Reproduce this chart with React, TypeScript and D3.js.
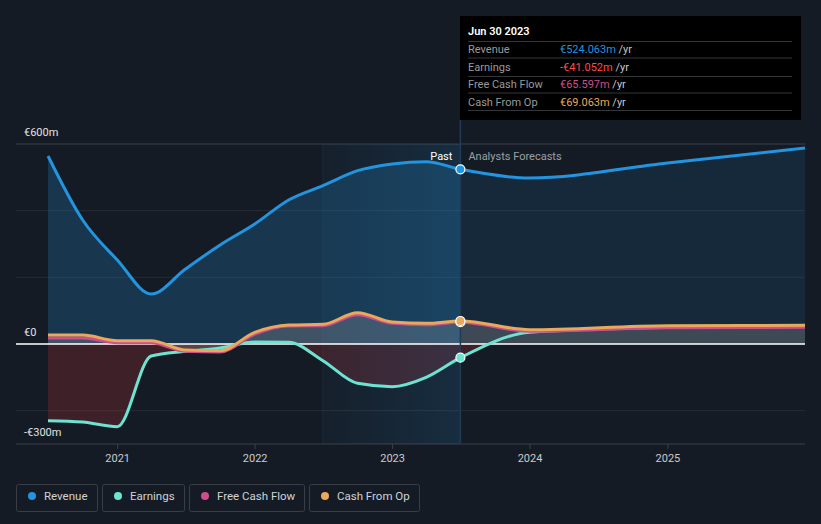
import React from "react";
import * as d3 from "d3";

// quarterly history, then analyst forecasts (values in €m)
const pastDates = [
  "2020-06-30", "2020-09-30", "2020-12-31", "2021-03-31", "2021-06-30", "2021-09-30",
  "2021-12-31", "2022-03-31", "2022-06-30", "2022-09-30", "2022-12-31", "2023-03-31", "2023-06-30",
];
const forecastDates = ["2023-12-31", "2024-12-31", "2025-12-31"];

const revenue = [564, 372, 252, 150, 225, 297, 360, 432, 475, 520, 540, 547, 524.063, 498, 543, 588];
const earnings = [-230, -234, -248, -36, -22, -12, 6, 5, -50, -118, -128, -100, -41.052, 35, 50, 55];
const freeCashFlow = [18, 18, 4, 4, -22, -24, 30, 54, 55, 88, 62, 58, 65.597, 38, 49, 50];
const cashFromOp = [27, 27, 10, 10, -18, -20, 35, 57, 59, 94, 66, 62, 69.063, 43, 55, 56];

const yTicks = [600, 0, -300];
const yTickLabels = ["€600m", "€0", "-€300m"];
const gridValues = [600, 400, 200, 0, -200];
const xTickYears = [2021, 2022, 2023, 2024, 2025];

const seriesNames = ["Revenue", "Earnings", "Free Cash Flow", "Cash From Op"];
const seriesColors = ["#2394df", "#6de3d1", "#cf4d8c", "#e9a95a"];
const tooltipValues = ["€524.063m", "-€41.052m", "€65.597m", "€69.063m"];
const tooltipValueColors = ["#2394df", "#ff4a4a", "#cf4d8c", "#e9a95a"];

const W = 821;
const H = 524;
const BG = "#151b24";
const FONT = "Roboto, 'Open Sans', sans-serif";

const parse = d3.timeParse("%Y-%m-%d");
const dates = [...pastDates, ...forecastDates].map(d => parse(d)!);
const splitDate = parse("2023-06-30")!;
const bandStart = parse("2022-06-30")!;

export default function App() {
  const x = d3.scaleTime().domain([dates[0], dates[dates.length - 1]]).range([48, 805]);
  const y = d3.scaleLinear().domain([-300, 600]).range([444, 144]);
  const gridLeft = 16;
  const gridRight = 805;

  const pts = (vals: number[]) => vals.map((v, i) => [dates[i], v] as [Date, number]);

  const line = d3
    .line<[Date, number]>()
    .x(d => x(d[0]))
    .y(d => y(d[1]))
    .curve(d3.curveMonotoneX);
  const area = d3
    .area<[Date, number]>()
    .x(d => x(d[0]))
    .y0(y(0))
    .y1(d => y(d[1]))
    .curve(d3.curveMonotoneX);

  const xs = x(splitDate);
  const xb = x(bandStart);
  const splitIdx = pastDates.length - 1;

  const legendWidths = [81, 82, 115, 110];
  let lx = 16;
  const legend = seriesNames.map((n, i) => {
    const item = { n, i, x: lx, w: legendWidths[i] };
    lx += legendWidths[i] + 5;
    return item;
  });

  return (
    <svg width={W} height={H} style={{ position: "absolute", left: 0, top: 0, background: BG, fontFamily: FONT }}>
      <defs>
        <clipPath id="pastClip">
          <rect x={0} y={0} width={xs} height={H} />
        </clipPath>
        <clipPath id="futureClip">
          <rect x={xs} y={0} width={W - xs} height={H} />
        </clipPath>
        <clipPath id="belowZero">
          <rect x={0} y={y(0)} width={W} height={H - y(0)} />
        </clipPath>
        <linearGradient id="bandGrad" x1="0" x2="1" y1="0" y2="0">
          <stop offset="0%" stopColor="#2394df" stopOpacity={0.04} />
          <stop offset="100%" stopColor="#2394df" stopOpacity={0.15} />
        </linearGradient>
      </defs>
      <rect x={0} y={0} width={W} height={H} fill={BG} />

      {/* gridlines */}
      {gridValues.map(v => (
        <line key={v} x1={gridLeft} x2={gridRight} y1={y(v)} y2={y(v)}
          stroke={v === 600 ? "#3b4048" : "#262c35"} strokeWidth={1} />
      ))}
      <line x1={gridLeft} x2={gridRight} y1={y(-300)} y2={y(-300)} stroke="#3b4048" strokeWidth={1} />

      {/* revenue area */}
      <path d={area(pts(revenue))!} fill="#2394df" fillOpacity={0.22} clipPath="url(#pastClip)" />
      <path d={area(pts(revenue))!} fill="#2394df" fillOpacity={0.12} clipPath="url(#futureClip)" />

      {/* earnings negative area */}
      <path d={area(pts(earnings))!} fill="#e0383e" fillOpacity={0.2} clipPath="url(#belowZero)" />

      {/* cash areas */}
      <path d={area(pts(cashFromOp))!} fill="#d8c8c8" fillOpacity={0.12} />
      <path d={area(pts(freeCashFlow))!} fill="#d8c8c8" fillOpacity={0.1} />

      {/* last-year highlight band */}
      <rect x={xb} y={144} width={xs - xb} height={300} fill="url(#bandGrad)" />
      <line x1={xb} x2={xb} y1={144} y2={444} stroke="#2394df" strokeOpacity={0.12} />

      {/* zero line */}
      <line x1={gridLeft} x2={gridRight} y1={y(0)} y2={y(0)} stroke="#ffffff" strokeWidth={1.5} />

      {/* split line */}
      <line x1={xs} x2={xs} y1={120} y2={444} stroke="#1f3b55" strokeWidth={1.5} />

      {/* lines */}
      <path d={line(pts(revenue))!} fill="none" stroke={seriesColors[0]} strokeWidth={3} />
      <path d={line(pts(earnings))!} fill="none" stroke={seriesColors[1]} strokeWidth={3} />
      <path d={line(pts(freeCashFlow))!} fill="none" stroke={seriesColors[2]} strokeWidth={3} />
      <path d={line(pts(cashFromOp))!} fill="none" stroke={seriesColors[3]} strokeWidth={3} />

      {/* markers */}
      {[revenue, earnings, freeCashFlow, cashFromOp].map((s, i) => (
        <circle key={i} cx={xs} cy={y(s[splitIdx])} r={4.5} fill={seriesColors[i]} stroke="#ffffff" strokeWidth={1.2} />
      ))}

      {/* past / forecast labels */}
      <text x={xs - 8} y={160} textAnchor="end" fill="#ffffff" fontSize={11}>Past</text>
      <text x={xs + 8} y={160} fill="#9aa0a6" fontSize={11}>Analysts Forecasts</text>

      {/* y labels */}
      {yTicks.map((v, i) => (
        <text key={v} x={24} y={y(v) - 8} fill="#e2e2e2" fontSize={11}>{yTickLabels[i]}</text>
      ))}

      {/* x axis */}
      {xTickYears.map(yr => {
        const px = x(new Date(yr, 0, 1));
        return (
          <g key={yr}>
            <line x1={px} x2={px} y1={444} y2={449} stroke="#3b4048" />
            <text x={px} y={462} textAnchor="middle" fill="#c9cbcf" fontSize={11}>{yr}</text>
          </g>
        );
      })}

      {/* tooltip */}
      <rect x={460} y={16} width={341} height={104} fill="#000000" />
      <text x={468} y={35} fill="#ffffff" fontSize={11} fontWeight={600}>Jun 30 2023</text>
      {[41.5, 58, 76.5, 93, 110.5].map((ly, i) => (
        <line key={i} x1={468} x2={792} y1={ly} y2={ly} stroke="#333639" strokeWidth={1} />
      ))}
      {seriesNames.map((n, i) => {
        const ty = 53 + i * 17.5;
        return (
          <g key={n}>
            <text x={468} y={ty} fill="#9a9a9a" fontSize={11}>{n}</text>
            <text x={560} y={ty} fontSize={11}>
              <tspan fill={tooltipValueColors[i]}>{tooltipValues[i]}</tspan>
              <tspan fill="#c8c8c8"> /yr</tspan>
            </text>
          </g>
        );
      })}

      {/* legend */}
      {legend.map(it => (
        <g key={it.n}>
          <rect x={it.x + 0.5} y={484.5} width={it.w} height={27} rx={2} fill="none" stroke="#383d46" />
          <circle cx={it.x + 16} cy={496} r={4} fill={seriesColors[it.i]} />
          <text x={it.x + 28} y={500} fill="#d0d2d6" fontSize={11.5}>{it.n}</text>
        </g>
      ))}
    </svg>
  );
}
